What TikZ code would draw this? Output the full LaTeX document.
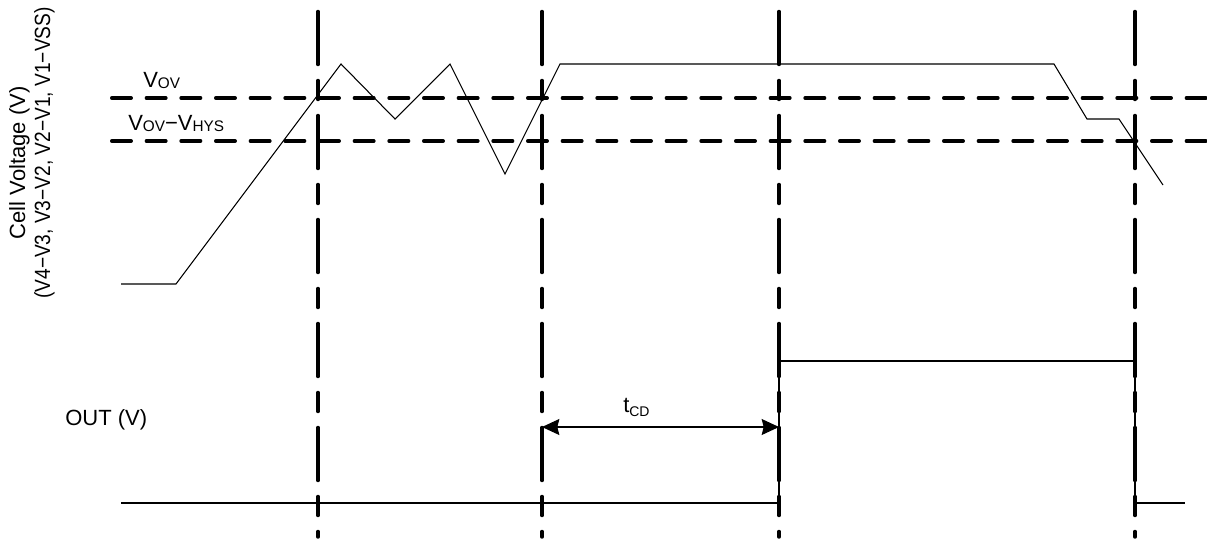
\documentclass[tikz,border=0pt]{standalone}
\usepackage{fontspec}
\setmainfont{Liberation Sans}
\usetikzlibrary{arrows.meta}
\newcommand\mysub[2]{\raisebox{-#2}{\fontsize{11.5}{12}\selectfont #1}}
\begin{document}
\begin{tikzpicture}[x=0.75pt,y=-0.75pt,
  vline/.style={line width=2.6pt, line cap=round, dash pattern=on 39.75pt off 12pt on 14.25pt off 12pt},
  hline/.style={line width=2.6pt, line cap=round, dash pattern=on 14.6pt off 11.4pt},
  wave/.style={line width=0.8pt, line join=miter},
  lbl/.style={font=\fontsize{16.5}{19}\selectfont, inner sep=0pt},
  dim/.style={line width=0.8pt, {Stealth[length=13pt,width=12pt,inset=1.5pt]}-{Stealth[length=13pt,width=12pt,inset=1.5pt]}}
  ]
\useasboundingbox (0,0) rectangle (1207,540);

% vertical time markers
\foreach \n/\x in {1/318,2/542,3/779,4/1135}{
  \coordinate (t\n top) at (\x,11.5);
  \coordinate (t\n bot) at (\x,537);
  \draw[vline] (t\n top) -- (t\n bot);
}

% horizontal thresholds
\coordinate (ovL) at (111.75,98);
\coordinate (ovR) at (1207,98);
\coordinate (hyL) at (111.75,141);
\coordinate (hyR) at (1207,141);
\draw[hline] (ovL) -- (ovR);
\draw[hline] (hyL) -- (hyR);

% cell voltage waveform
\draw[wave] (121,284) -- (176,284) -- (341,64) -- (395,119) -- (450,64)
  -- (505,174) -- (560,64) -- (1054,64) -- (1087,119) -- (1119,119) -- (1163,185);

% OUT waveform
\draw[wave] (121,503) -- (779,503) -- (779,361) -- (1135,361) -- (1135,503) -- (1185,503);

% tCD dimension
\coordinate (d1) at (542,427);
\coordinate (d2) at (779,427);
\draw[dim] (d1) -- (d2);

% labels
\node[lbl, anchor=base west] (vov) at (143,87) {V\mysub{OV}{0.8pt}};
\node[lbl, anchor=base west] (vhys) at (128,130) {V\mysub{OV}{0.8pt}\char"2212 V\mysub{HYS}{0.8pt}};
\node[lbl, anchor=base west] (out) at (65,425) {OUT (V)};
\node[lbl, anchor=base west] (tcd) at (623,412) {t\raisebox{-3pt}{\fontsize{10.5}{11}\selectfont CD}};
\node[lbl, rotate=90, anchor=base] (yl1) at (25,163) {Cell Voltage (V)};
\node[lbl, rotate=90, anchor=base] (yl2) at (50,153) {\scalebox{0.87}[1]{(V4\char"2212 V3, V3\char"2212 V2, V2\char"2212 V1, V1\char"2212 VSS)}};
\end{tikzpicture}
\end{document}
